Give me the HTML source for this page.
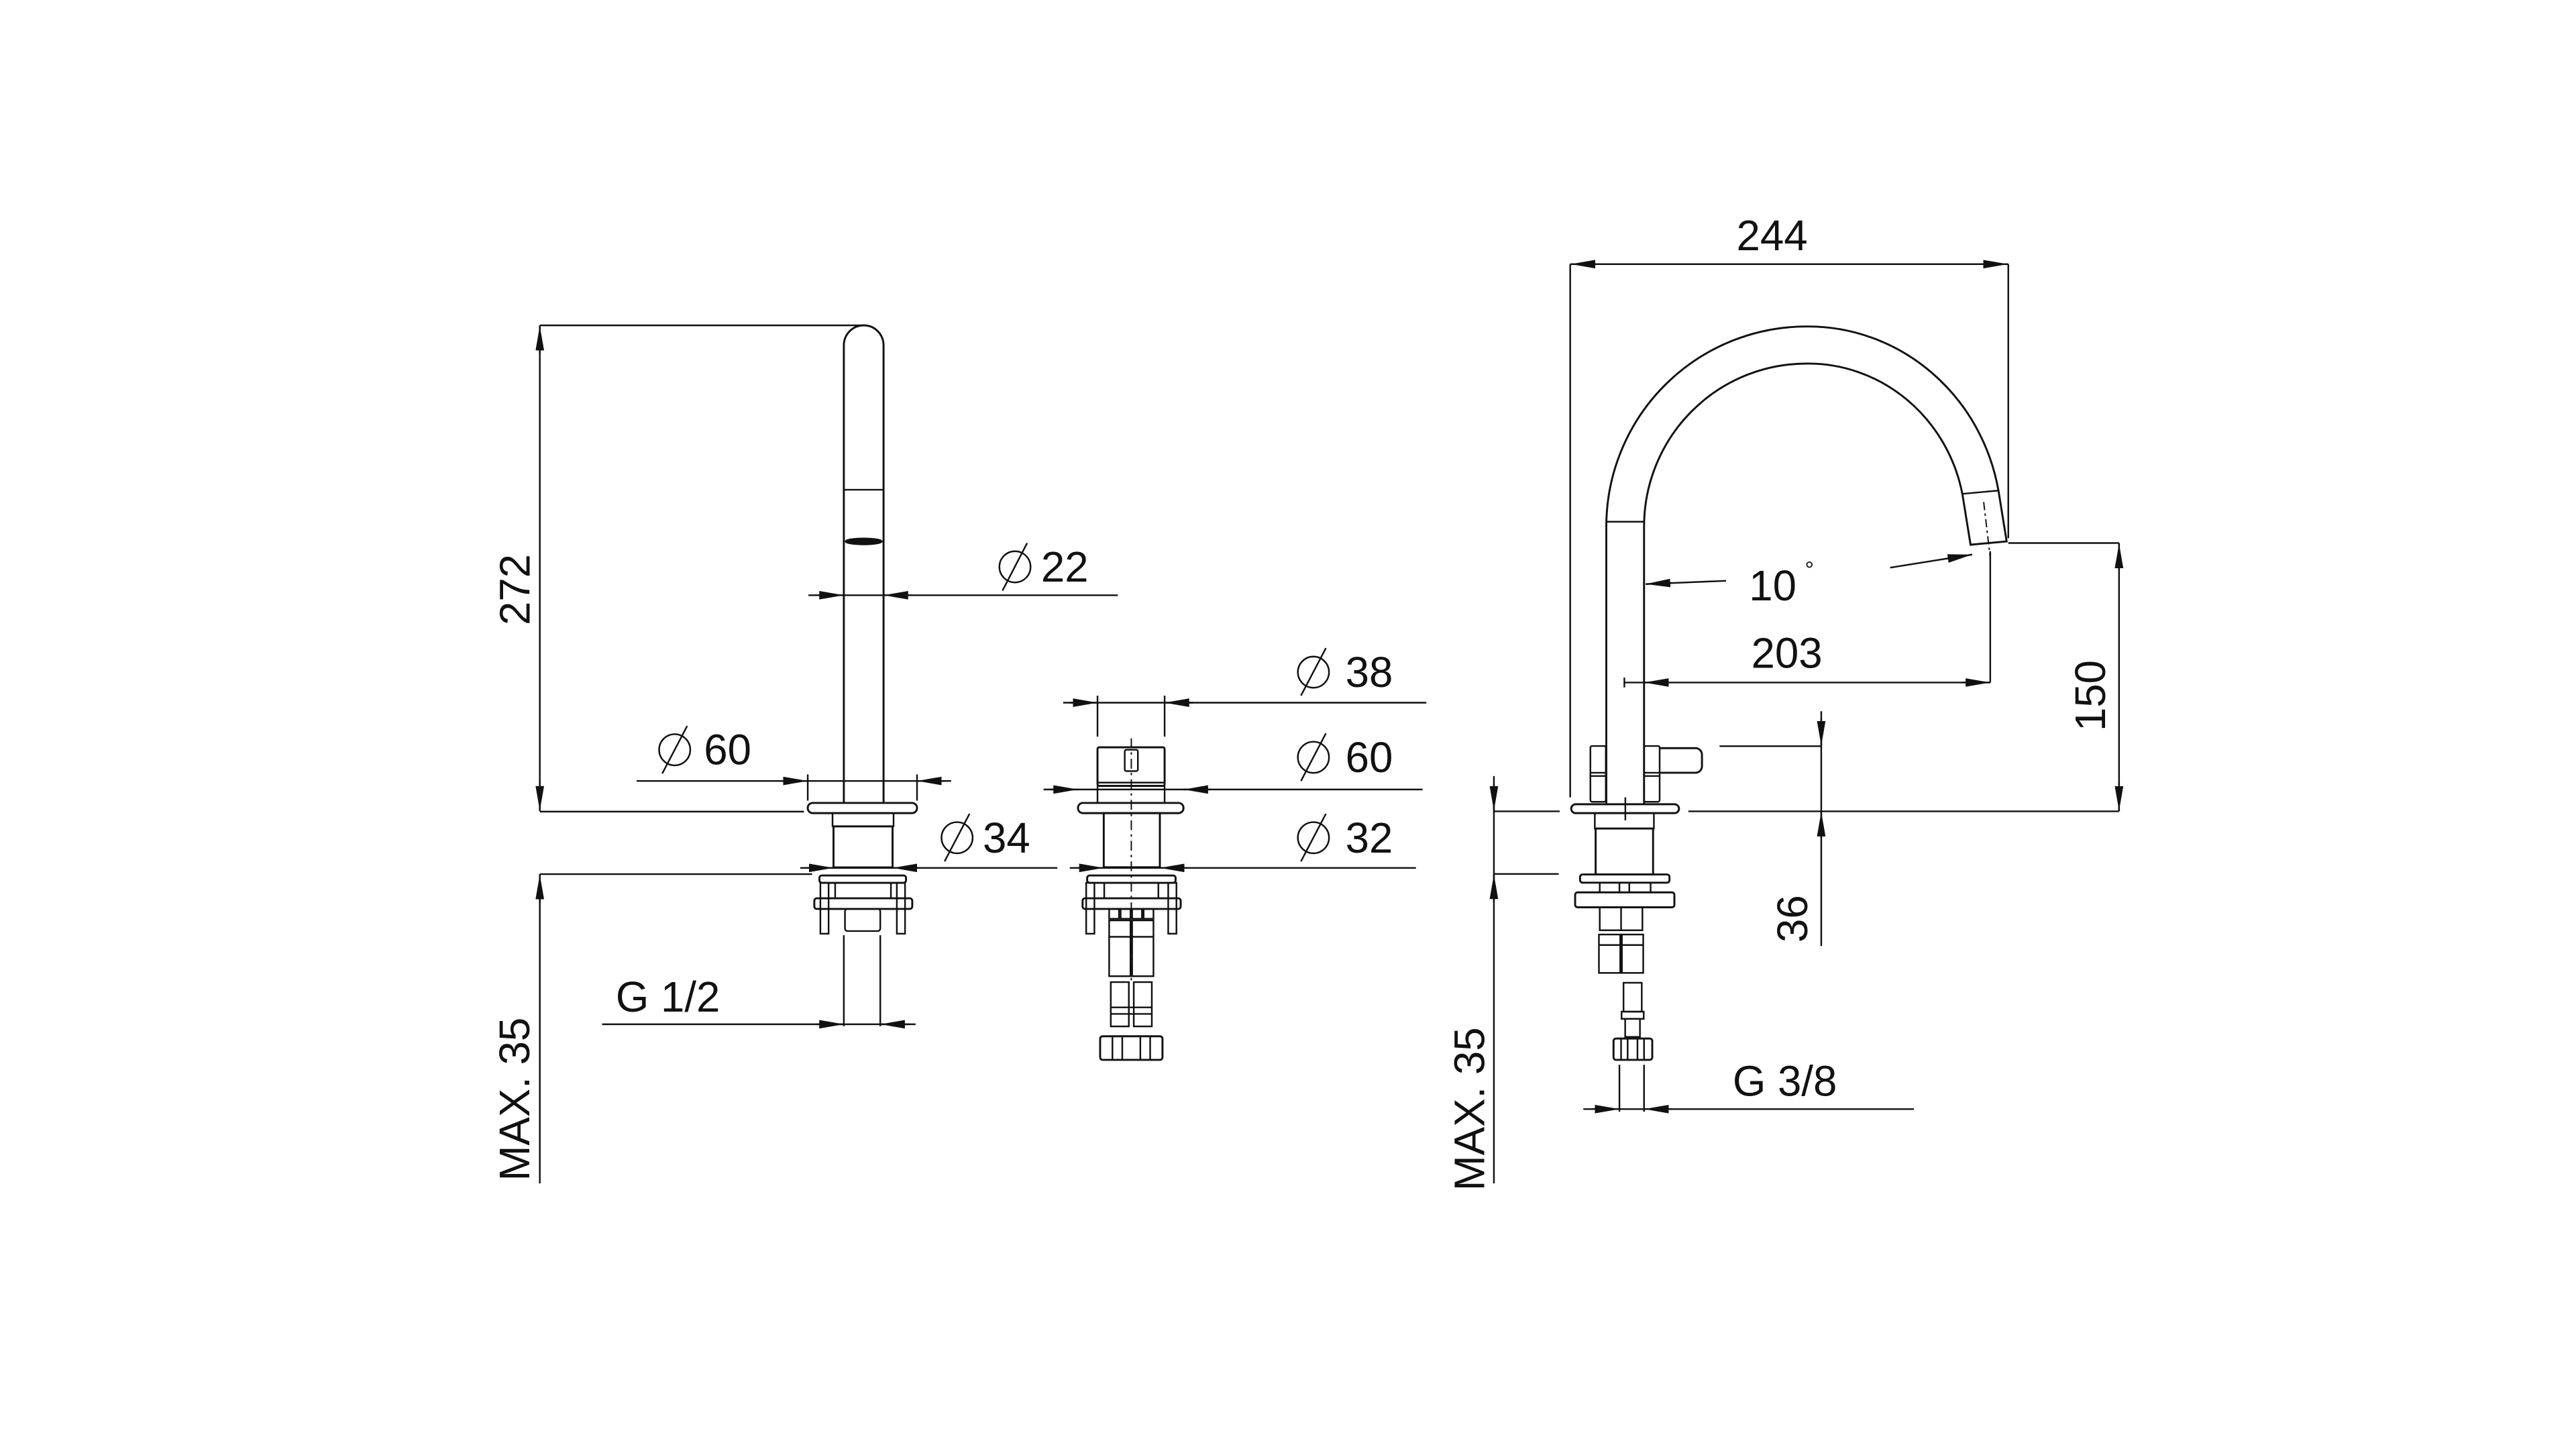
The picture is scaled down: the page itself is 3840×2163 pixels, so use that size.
<!DOCTYPE html>
<html><head><meta charset="utf-8"><style>
html,body{margin:0;padding:0;background:#fff;}
svg{display:block;}
text{font-family:"Liberation Sans",sans-serif;fill:#111;}
</style></head><body>
<svg width="3840" height="2163" viewBox="0 0 1570 884.4" preserveAspectRatio="none" xmlns="http://www.w3.org/2000/svg">
<defs>
<marker id="a" markerUnits="userSpaceOnUse" markerWidth="20" markerHeight="8" refX="15" refY="2.6" orient="auto"><path d="M0,0 L15,2.6 L0,5.2 z" fill="#111"/></marker>
</defs>
<rect width="1570" height="884.4" fill="#fff"/>
<g stroke="#111" stroke-width="1" fill="none">
<!-- ===== LEFT FAUCET ===== -->
<path d="M514.3,489.4 V210.4 A12.1,12.1 0 0 1 538.5,210.4 V489.4" stroke-width="1.2"/>
<line x1="514.3" y1="298.5" x2="538.5" y2="298.5"/>
<ellipse cx="526.4" cy="330" rx="11" ry="1.8" fill="#111"/>
<line x1="329" y1="198.3" x2="526" y2="198.3"/>
<line x1="329" y1="198.3" x2="329" y2="494.4"/>
<line x1="329" y1="216" x2="329" y2="198.6" marker-end="url(#a)"/>
<line x1="329" y1="476" x2="329" y2="494.1" marker-end="url(#a)"/>
<line x1="329" y1="494.7" x2="490" y2="494.7"/>
<line x1="329" y1="532.8" x2="495" y2="532.8"/>
<line x1="329" y1="532.8" x2="329" y2="721.3"/>
<line x1="329" y1="551" x2="329" y2="533.1" marker-end="url(#a)"/>
<!-- Ø22 -->
<line x1="492.7" y1="362.8" x2="681.3" y2="362.8"/>
<line x1="496" y1="362.8" x2="514.3" y2="362.8" marker-end="url(#a)"/>
<line x1="556" y1="362.8" x2="538.5" y2="362.8" marker-end="url(#a)"/>
<!-- Ø60 left -->
<line x1="388" y1="476" x2="579.7" y2="476"/>
<line x1="475" y1="476" x2="492.3" y2="476" marker-end="url(#a)"/>
<line x1="576" y1="476" x2="558.9" y2="476" marker-end="url(#a)"/>
<line x1="492.3" y1="472" x2="492.3" y2="488"/>
<line x1="558.9" y1="472" x2="558.9" y2="488"/>
<rect x="492.3" y="489.4" width="66.6" height="6.2" rx="3" stroke-width="1.2"/>
<rect x="507.4" y="495.6" width="37.2" height="8"/>
<rect x="508" y="503.7" width="36" height="25" stroke-width="1.2"/>
<!-- Ø34 -->
<line x1="487.7" y1="529" x2="644.4" y2="529"/>
<line x1="491" y1="529" x2="508" y2="529" marker-end="url(#a)"/>
<line x1="561" y1="529" x2="544" y2="529" marker-end="url(#a)"/>
<rect x="499.4" y="533.6" width="52.8" height="4.5" rx="1.5" stroke-width="1.2"/>
<rect x="496.3" y="547.5" width="59.7" height="6.5" rx="1.5" stroke-width="1.2"/>
<rect x="500" y="538.1" width="5" height="31"/>
<rect x="546.6" y="538.1" width="5" height="31"/>
<line x1="509" y1="538.1" x2="509" y2="547.5"/>
<line x1="543" y1="538.1" x2="543" y2="547.5"/>
<rect x="515" y="554" width="21.5" height="13.5" rx="1.5"/>
<!-- G1/2 -->
<line x1="514.3" y1="570" x2="514.3" y2="625.5"/>
<line x1="536.5" y1="570" x2="536.5" y2="625.5"/>
<line x1="367" y1="624.3" x2="558" y2="624.3"/>
<line x1="497" y1="624.3" x2="514.3" y2="624.3" marker-end="url(#a)"/>
<line x1="554" y1="624.3" x2="536.5" y2="624.3" marker-end="url(#a)"/>

<!-- ===== MIDDLE UNIT ===== -->
<line x1="648" y1="428.3" x2="869.3" y2="428.3"/>
<line x1="652" y1="428.3" x2="668.9" y2="428.3" marker-end="url(#a)"/>
<line x1="727" y1="428.3" x2="709.8" y2="428.3" marker-end="url(#a)"/>
<line x1="668.9" y1="424" x2="668.9" y2="449"/>
<line x1="709.8" y1="424" x2="709.8" y2="449"/>
<rect x="668.9" y="455.5" width="40.9" height="23.5" rx="1" stroke-width="1.2"/>
<rect x="685.5" y="457" width="8" height="13" rx="1"/>
<line x1="669.5" y1="477" x2="709.3" y2="477"/>
<line x1="636" y1="481.2" x2="867" y2="481.2"/>
<line x1="640" y1="481.2" x2="657" y2="481.2" marker-end="url(#a)"/>
<line x1="738" y1="481.2" x2="721.3" y2="481.2" marker-end="url(#a)"/>
<line x1="668.9" y1="479" x2="668.9" y2="489.4"/>
<line x1="709.8" y1="479" x2="709.8" y2="489.4"/>
<rect x="657" y="489.4" width="64.3" height="6.2" rx="3" stroke-width="1.2"/>
<rect x="672.7" y="495.6" width="34.2" height="33" stroke-width="1.2"/>
<line x1="689.5" y1="450" x2="689.5" y2="600" stroke-width="0.8" stroke-dasharray="6,2.5,1.5,2.5"/>
<line x1="652" y1="529" x2="863" y2="529"/>
<line x1="656" y1="529" x2="672.7" y2="529" marker-end="url(#a)"/>
<line x1="724" y1="529" x2="706.9" y2="529" marker-end="url(#a)"/>
<rect x="662.6" y="533.6" width="53.9" height="4.5" rx="1.5" stroke-width="1.2"/>
<rect x="659.8" y="547.5" width="59.8" height="6.5" rx="1.5" stroke-width="1.2"/>
<rect x="662" y="538.1" width="5" height="31"/>
<rect x="712" y="538.1" width="5" height="31"/>
<line x1="673" y1="538.1" x2="673" y2="547.5"/>
<line x1="706" y1="538.1" x2="706" y2="547.5"/>
<rect x="676" y="554" width="6" height="6"/><rect x="683" y="554" width="6" height="6"/><rect x="690" y="554" width="6" height="6"/><rect x="697" y="554" width="6" height="6"/>
<rect x="676" y="561" width="13" height="34"/><rect x="690" y="561" width="13" height="34"/>
<line x1="676" y1="571" x2="703" y2="571"/>
<rect x="677" y="598.6" width="11" height="27"/><rect x="691" y="598.6" width="11" height="27"/>
<line x1="677" y1="614" x2="702" y2="614"/><line x1="677" y1="618" x2="702" y2="618"/>
<rect x="670.5" y="631.6" width="38" height="14.4" rx="1.5" stroke-width="1.2"/>
<line x1="678" y1="631.6" x2="678" y2="646"/><line x1="684" y1="631.6" x2="684" y2="646"/><line x1="695" y1="631.6" x2="695" y2="646"/><line x1="701" y1="631.6" x2="701" y2="646"/>

<!-- ===== RIGHT FAUCET ===== -->
<line x1="957" y1="161" x2="1224" y2="161"/>
<line x1="974" y1="161" x2="957.3" y2="161" marker-end="url(#a)"/>
<line x1="1207" y1="161" x2="1223.7" y2="161" marker-end="url(#a)"/>
<line x1="957" y1="161" x2="957" y2="486"/>
<line x1="1224" y1="161" x2="1224" y2="328"/>
<path d="M979,490 V321 A122,122 0 0 1 1101,199 A118,122 0 0 1 1218,299 L1223,330 L1201,332 L1196,301 A96,99.4 0 0 0 1101,221.6 A99,99.4 0 0 0 1002,321 V490" stroke-width="1.2"/>
<line x1="1196" y1="301" x2="1218" y2="299"/>
<line x1="979" y1="318" x2="1002" y2="318"/>
<line x1="1209" y1="306" x2="1213" y2="340" stroke-width="0.8" stroke-dasharray="5,2,1.5,2"/>
<!-- 10° -->
<line x1="1052" y1="354" x2="1003" y2="356"/>
<line x1="1019" y1="355.3" x2="1003" y2="356" marker-end="url(#a)"/>
<line x1="1152" y1="346" x2="1202" y2="338"/>
<line x1="1186" y1="340.6" x2="1202" y2="338" marker-end="url(#a)"/>
<!-- 203 -->
<line x1="990" y1="416" x2="1213" y2="416"/>
<line x1="1017" y1="416" x2="1002" y2="416" marker-end="url(#a)"/>
<line x1="1196" y1="416" x2="1213" y2="416" marker-end="url(#a)"/>
<line x1="990" y1="413" x2="990" y2="419"/>
<line x1="1213" y1="336" x2="1213" y2="416"/>
<!-- 150 -->
<line x1="1224" y1="331" x2="1291.5" y2="331"/>
<line x1="1291.5" y1="331" x2="1291.5" y2="494.5"/>
<line x1="1291.5" y1="348" x2="1291.5" y2="331.3" marker-end="url(#a)"/>
<line x1="1291.5" y1="477" x2="1291.5" y2="494.2" marker-end="url(#a)"/>
<line x1="1029" y1="494.5" x2="1291.5" y2="494.5"/>
<!-- 36 -->
<line x1="1048" y1="454.8" x2="1110" y2="454.8"/>
<line x1="1110" y1="433.5" x2="1110" y2="576.6"/>
<line x1="1110" y1="438" x2="1110" y2="454.5" marker-end="url(#a)"/>
<line x1="1110" y1="511" x2="1110" y2="494.8" marker-end="url(#a)"/>
<!-- handle/posts -->
<rect x="969.3" y="454.7" width="9.4" height="34" rx="1"/>
<rect x="1002" y="454.7" width="9.5" height="34" rx="1"/>
<line x1="969.3" y1="471" x2="978.7" y2="471"/><line x1="969.3" y1="473" x2="978.7" y2="473"/>
<line x1="1002" y1="471" x2="1011.5" y2="471"/><line x1="1002" y1="473" x2="1011.5" y2="473"/>
<path d="M1011.5,456 H1033 A4,4 0 0 1 1037.3,460 V467 A4,4 0 0 1 1033,471 H1011.5" stroke-width="1.2"/>
<!-- base -->
<line x1="910.5" y1="494.5" x2="950.6" y2="494.5"/>
<rect x="957.6" y="490.2" width="65.7" height="5.4" rx="2.7" stroke-width="1.2"/>
<line x1="990.6" y1="486" x2="990.6" y2="500"/>
<rect x="972" y="495.6" width="36" height="9.4"/>
<rect x="972.5" y="505" width="35" height="28" stroke-width="1.2"/>
<line x1="910.5" y1="532.7" x2="950" y2="532.7"/>
<line x1="910.5" y1="473" x2="910.5" y2="721.3"/>
<line x1="910.5" y1="478" x2="910.5" y2="494.2" marker-end="url(#a)"/>
<line x1="910.5" y1="550" x2="910.5" y2="533" marker-end="url(#a)"/>
<rect x="963" y="533" width="54.5" height="5" rx="1.5" stroke-width="1.2"/>
<rect x="960" y="543.9" width="60.5" height="9.1" rx="1.5" stroke-width="1.2"/>
<line x1="975" y1="538" x2="975" y2="543.9"/><line x1="987" y1="538" x2="987" y2="543.9"/><line x1="993" y1="538" x2="993" y2="543.9"/><line x1="1006" y1="538" x2="1006" y2="543.9"/>
<rect x="975" y="553" width="26" height="14"/>
<line x1="988" y1="553" x2="988" y2="567"/>
<rect x="974.5" y="569.6" width="13" height="23.4"/><rect x="988.5" y="569.6" width="13" height="23.4"/>
<line x1="974.5" y1="576" x2="1001.5" y2="576"/>
<rect x="989.5" y="599" width="11.1" height="17.6"/>
<rect x="988.3" y="616.6" width="13.5" height="4.4"/>
<rect x="990.5" y="621" width="9" height="11"/>
<rect x="983.4" y="633" width="23.6" height="13" rx="1.5" stroke-width="1.2"/>
<line x1="988" y1="633" x2="988" y2="646"/><line x1="992" y1="633" x2="992" y2="646"/><line x1="998" y1="633" x2="998" y2="646"/><line x1="1002" y1="633" x2="1002" y2="646"/>
<!-- G3/8 -->
<line x1="987" y1="649" x2="987" y2="677.6"/>
<line x1="1002" y1="649" x2="1002" y2="677.6"/>
<line x1="965" y1="676" x2="1166.5" y2="676"/>
<line x1="970" y1="676" x2="987" y2="676" marker-end="url(#a)"/>
<line x1="1019" y1="676" x2="1002" y2="676" marker-end="url(#a)"/>
<!-- diameter symbols -->
<g stroke-width="1"><circle cx="618.6" cy="345.5" r="9.5"/><line x1="611" y1="360" x2="626" y2="331"/></g>
<g stroke-width="1"><circle cx="411.2" cy="457" r="9.5"/><line x1="403.6" y1="471.5" x2="418.8" y2="442.5"/></g>
<g stroke-width="1"><circle cx="583.3" cy="510.6" r="9.5"/><line x1="575.7" y1="525" x2="590.9" y2="496"/></g>
<g stroke-width="1"><circle cx="800.5" cy="409.7" r="9.5"/><line x1="792.9" y1="424" x2="808.1" y2="395"/></g>
<g stroke-width="1"><circle cx="800.5" cy="461.6" r="9.5"/><line x1="792.9" y1="476" x2="808.1" y2="447"/></g>
<g stroke-width="1"><circle cx="800.5" cy="510.6" r="9.5"/><line x1="792.9" y1="525" x2="808.1" y2="496"/></g>
</g>
<g font-size="26">
<text x="634.5" y="354.5">22</text>
<text x="429" y="466">60</text>
<text x="599" y="519.6">34</text>
<text x="820" y="418.7">38</text>
<text x="820" y="470.6">60</text>
<text x="820" y="519.6">32</text>
<text x="375.3" y="616.5">G 1/2</text>
<text x="1080" y="152.5" text-anchor="middle">244</text>
<text x="1066" y="366">10</text>
<text x="1100" y="352" font-size="14">°</text>
<text x="1089" y="407" text-anchor="middle">203</text>
<text x="1056" y="668">G 3/8</text>
<text x="313.6" y="368.5" text-anchor="middle" transform="rotate(-90 313.6 359.4)">272</text>
<text x="313.6" y="679" text-anchor="middle" transform="rotate(-90 313.6 670)">MAX. 35</text>
<text x="895.5" y="685" text-anchor="middle" transform="rotate(-90 895.5 676)">MAX. 35</text>
<text x="1274" y="433" text-anchor="middle" transform="rotate(-90 1274 424)">150</text>
<text x="1092.5" y="569" text-anchor="middle" transform="rotate(-90 1092.5 560)">36</text>
</g>
</svg>
</body></html>
